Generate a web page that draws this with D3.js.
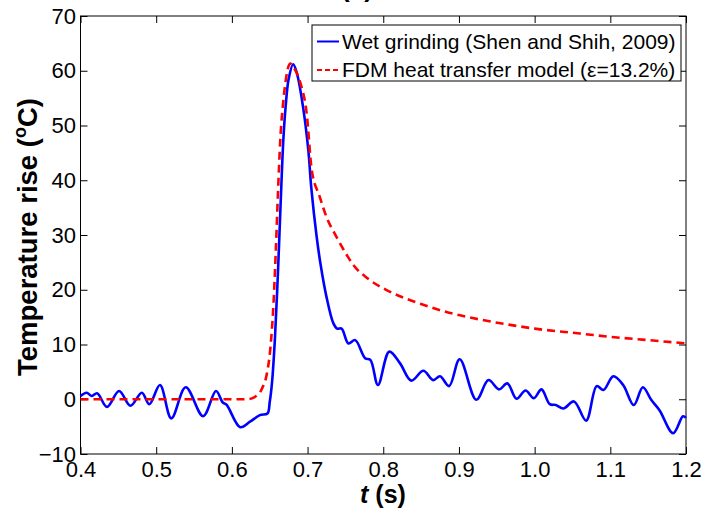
<!DOCTYPE html>
<html><head><meta charset="utf-8">
<script src="https://cdn.jsdelivr.net/npm/d3@7"></script>
<style>
body{margin:0;background:#fff;}
svg{display:block;font-family:Arial,"Liberation Sans",sans-serif;}
</style></head>
<body><svg id="c" width="705" height="513"></svg>
<script>
// ---- data ----
const xTicks = [0.4,0.5,0.6,0.7,0.8,0.9,1.0,1.1,1.2];
const yTicks = [-10,0,10,20,30,40,50,60,70];
const seriesNames = ["Wet grinding (Shen and Shih, 2009)", "FDM heat transfer model (\u03B5=13.2%)"];

const tWet = [0.400,0.408,0.415,0.422,0.435,0.451,0.466,0.481,0.491,0.505,0.520,0.539,0.562,0.579,0.588,0.593,0.611,0.624,0.637,0.647,0.650,0.653,0.657,0.661,0.6645,0.668,0.671,0.675,0.681,0.686,0.694,0.701,0.705,0.712,0.717,0.725,0.734,0.739,0.745,0.754,0.763,0.776,0.783,0.793,0.808,0.822,0.837,0.853,0.866,0.875,0.887,0.901,0.923,0.939,0.953,0.964,0.976,0.988,0.999,1.009,1.020,1.028,1.038,1.052,1.068,1.082,1.091,1.104,1.117,1.131,1.143,1.154,1.165,1.183,1.196,1.200];
const tempWet = [0.6,1.2,0.6,1.1,-1.4,1.5,-1.2,1.2,-0.9,2.6,-3.5,2.2,-3.1,1.5,-0.6,-1.0,-5.1,-4.1,-2.9,-2.6,-0.5,3.0,11.4,23.6,36,47.4,53.4,58.5,61.2,59.5,53.4,45.5,38.5,29.7,24.8,18.7,13.9,12.9,12.9,10.2,10.8,7.5,7.2,2.6,8.7,6.6,3.4,5.2,3.5,4.2,2.4,7.3,-0.1,3.5,1.8,2.9,0.1,1.6,0.2,1.8,-0.9,-1.05,-1.7,-0.4,-3.9,2.4,1.7,4.2,2.6,-1.05,2.2,-0.1,-2.0,-6.2,-3.1,-3.4];

const tFdm = [0.40,0.62,0.630,0.640,0.646,0.651,0.655,0.658,0.661,0.664,0.668,0.672,0.677,0.682,0.690,0.699,0.7054,0.716,0.725,0.738,0.752,0.760,0.780,0.805,0.850,0.890,0.930,0.976,1.000,1.060,1.100,1.150,1.200];
const tempFdm = [0,0,0.4,2.0,4.5,9.5,17.5,27,38,47.5,54.5,59,61.3,60.5,58.0,52.0,42,37,33.3,29.7,26.3,24.6,22.0,19.9,17.4,15.7,14.5,13.4,12.9,12.0,11.4,10.8,10.2];

// ---- layout ----
const L = 80.5, R = 686, T = 16, B = 454;
const svg = d3.select("#c");
const x = d3.scaleLinear().domain([0.4,1.2]).range([L,R]);
const y = d3.scaleLinear().domain([-10,70]).range([B,T]);

// title (mostly cut off at top)
svg.append("text").attr("x",357).attr("y",-3).attr("text-anchor","middle")
  .attr("font-size",26).attr("font-weight","bold").text("(a)");

// frame
svg.append("rect").attr("x",L).attr("y",T).attr("width",R-L).attr("height",B-T)
  .attr("fill","none").attr("stroke","#000").attr("stroke-width",1);

const fs = 22;
const gx = svg.append("g").attr("transform",`translate(0,${B})`)
  .call(d3.axisBottom(x).tickValues(xTicks).tickFormat(d3.format(".1f")).tickSizeInner(-7).tickSizeOuter(0).tickPadding(7.5));
const gy = svg.append("g").attr("transform",`translate(${L},0)`)
  .call(d3.axisLeft(y).tickValues(yTicks).tickFormat(d3.format("d")).tickSizeInner(-7).tickSizeOuter(0).tickPadding(4.5));
const gx2 = svg.append("g").attr("transform",`translate(0,${T})`)
  .call(d3.axisTop(x).tickValues(xTicks).tickFormat("").tickSizeInner(-7).tickSizeOuter(0));
const gy2 = svg.append("g").attr("transform",`translate(${R},0)`)
  .call(d3.axisRight(y).tickValues(yTicks).tickFormat("").tickSizeInner(-7).tickSizeOuter(0));
[gx,gy,gx2,gy2].forEach(g=>{
  g.select(".domain").remove();
  g.selectAll("line").attr("stroke","#000");
  g.selectAll("text").attr("font-size",fs).attr("fill","#000").attr("font-family","Arial, 'Liberation Sans', sans-serif");
});

// axis titles
const yl = svg.append("text").attr("transform",`translate(37,${(T+B)/2+2}) rotate(-90)`)
  .attr("text-anchor","middle").attr("font-size",27.5).attr("font-weight","bold");
yl.append("tspan").text("Temperature rise (");
yl.append("tspan").attr("font-size",18).attr("dy",-11).text("o");
yl.append("tspan").attr("dy",11).text("C)");

const xl = svg.append("text").attr("x",383).attr("y",503).attr("text-anchor","middle")
  .attr("font-size",25).attr("font-weight","bold");
xl.append("tspan").attr("font-style","italic").text("t");
xl.append("tspan").text(" (s)");

// lines
const wet = tWet.map((t,i)=>[t,tempWet[i]]);
const fdm = tFdm.map((t,i)=>[t,tempFdm[i]]);
svg.append("path").datum(wet)
  .attr("d",d3.line().x(d=>x(d[0])).y(d=>y(d[1])).curve(d3.curveCatmullRom.alpha(0.5)))
  .attr("fill","none").attr("stroke","#0000ff").attr("stroke-width",2.6);
svg.append("path").datum(fdm)
  .attr("d",d3.line().x(d=>x(d[0])).y(d=>y(d[1])).curve(d3.curveMonotoneX))
  .attr("fill","none").attr("stroke","#ff0000").attr("stroke-width",2.6).attr("stroke-dasharray","8,5");

// legend
const lg = svg.append("g");
lg.append("rect").attr("x",312).attr("y",25).attr("width",369).attr("height",56)
  .attr("fill","#fff").attr("stroke","#000").attr("stroke-width",1);
const rows = [{c:"#0000ff",dash:null,y:41.5},{c:"#ff0000",dash:"5,3",y:70}];
rows.forEach((r,i)=>{
  const l = lg.append("line").attr("x1",317).attr("x2",339).attr("y1",r.y).attr("y2",r.y)
    .attr("stroke",r.c).attr("stroke-width",2);
  if(r.dash) l.attr("stroke-dasharray",r.dash);
  lg.append("text").attr("x",342).attr("y",r.y).attr("dy","0.35em")
    .attr("font-size",21).text(seriesNames[i]);
});
</script></body></html>
